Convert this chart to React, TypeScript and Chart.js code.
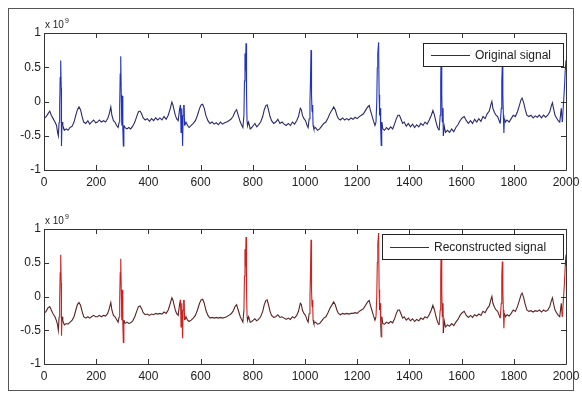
import React, { useEffect, useLayoutEffect, useRef } from "react";
import { Chart, registerables } from "chart.js";

Chart.register(...registerables);

// x in samples, y in units of 1e9
const originalSignal: [number, number][] = [
  [0,-0.25],[8,-0.22],[15,-0.18],[22,-0.14],[28,-0.2],[35,-0.25],[42,-0.3],[48,-0.35],[52,-0.45],[55,-0.5],[58,-0.3],[60,-0.05],[62,0.35],[64,0.6],[66,0.2],[67,-0.65],[69,-0.3],[72,-0.35],[78,-0.42],[85,-0.4],[92,-0.42],[100,-0.38],[108,-0.36],[115,-0.3],[122,-0.2],[128,-0.12],[134,-0.08],[140,-0.12],[146,-0.22],[152,-0.3],[160,-0.32],[168,-0.28],[175,-0.33],[182,-0.3],[190,-0.27],[198,-0.31],[205,-0.3],[212,-0.27],[220,-0.3],[228,-0.28],[236,-0.3],[244,-0.25],[250,-0.18],[256,-0.08],[260,-0.2],[266,-0.28],[272,-0.3],[278,-0.35],[284,-0.38],[288,-0.3],[290,-0.05],[292,0.4],[294,0.66],[296,0.1],[298,-0.35],[300,0.08],[302,-0.4],[304,-0.65],[306,-0.35],[310,-0.38],[318,-0.4],[325,-0.38],[332,-0.4],[340,-0.36],[348,-0.3],[355,-0.22],[362,-0.15],[368,-0.14],[374,-0.18],[380,-0.24],[388,-0.27],[396,-0.25],[404,-0.29],[412,-0.25],[420,-0.28],[428,-0.24],[436,-0.27],[444,-0.24],[452,-0.27],[460,-0.22],[468,-0.26],[476,-0.2],[484,-0.1],[490,-0.01],[494,-0.05],[498,-0.12],[503,-0.2],[508,-0.25],[514,-0.28],[520,-0.1],[523,-0.05],[525,-0.45],[528,-0.1],[531,-0.65],[533,-0.2],[536,-0.05],[539,-0.35],[544,-0.3],[550,-0.35],[556,-0.38],[564,-0.35],[572,-0.32],[580,-0.28],[588,-0.2],[596,-0.1],[602,-0.05],[608,-0.04],[614,-0.1],[620,-0.2],[628,-0.28],[636,-0.32],[644,-0.3],[652,-0.33],[660,-0.31],[668,-0.34],[676,-0.3],[684,-0.33],[692,-0.31],[700,-0.3],[708,-0.28],[716,-0.26],[724,-0.22],[732,-0.15],[738,-0.12],[744,-0.2],[752,-0.3],[758,-0.35],[762,-0.38],[766,-0.2],[768,0.3],[770,0.7],[772,0.45],[774,0.85],[776,0.1],[778,-0.3],[780,-0.35],[784,-0.3],[790,-0.4],[796,-0.38],[802,-0.35],[808,-0.32],[815,-0.37],[822,-0.34],[830,-0.3],[838,-0.22],[844,-0.12],[850,-0.06],[855,-0.05],[860,-0.12],[866,-0.22],[872,-0.28],[880,-0.32],[888,-0.3],[896,-0.26],[904,-0.32],[912,-0.3],[920,-0.33],[928,-0.35],[936,-0.32],[944,-0.35],[952,-0.3],[960,-0.33],[968,-0.28],[975,-0.22],[982,-0.1],[986,-0.12],[990,-0.2],[996,-0.25],[1002,-0.28],[1008,-0.35],[1012,-0.38],[1016,-0.25],[1019,0.0],[1021,0.3],[1023,0.75],[1025,0.1],[1027,-0.15],[1029,-0.05],[1031,-0.35],[1034,-0.4],[1040,-0.38],[1048,-0.42],[1056,-0.4],[1064,-0.36],[1072,-0.32],[1080,-0.3],[1088,-0.24],[1096,-0.17],[1104,-0.12],[1110,-0.08],[1116,-0.12],[1122,-0.2],[1128,-0.25],[1136,-0.27],[1144,-0.24],[1152,-0.27],[1160,-0.25],[1168,-0.27],[1176,-0.24],[1184,-0.26],[1192,-0.23],[1200,-0.25],[1208,-0.22],[1216,-0.2],[1224,-0.18],[1232,-0.13],[1240,-0.08],[1246,-0.06],[1250,-0.12],[1256,-0.2],[1262,-0.28],[1268,-0.35],[1272,-0.3],[1275,0.0],[1277,0.5],[1279,0.7],[1282,0.86],[1284,0.1],[1286,-0.2],[1288,-0.1],[1290,-0.4],[1292,-0.64],[1294,-0.3],[1298,-0.4],[1305,-0.42],[1312,-0.38],[1320,-0.41],[1328,-0.37],[1336,-0.4],[1344,-0.32],[1350,-0.25],[1356,-0.2],[1362,-0.2],[1368,-0.26],[1374,-0.32],[1380,-0.3],[1388,-0.36],[1396,-0.32],[1404,-0.37],[1412,-0.33],[1420,-0.38],[1428,-0.34],[1436,-0.37],[1444,-0.32],[1452,-0.35],[1460,-0.3],[1468,-0.33],[1476,-0.27],[1484,-0.2],[1490,-0.13],[1496,-0.2],[1502,-0.3],[1508,-0.38],[1514,-0.42],[1518,-0.2],[1520,0.3],[1522,0.85],[1524,0.1],[1526,-0.3],[1528,-0.1],[1530,-0.5],[1533,-0.35],[1538,-0.45],[1546,-0.42],[1554,-0.45],[1562,-0.4],[1570,-0.44],[1578,-0.38],[1586,-0.34],[1594,-0.28],[1602,-0.24],[1610,-0.22],[1618,-0.28],[1626,-0.32],[1634,-0.28],[1642,-0.32],[1650,-0.26],[1658,-0.3],[1666,-0.25],[1674,-0.29],[1682,-0.22],[1690,-0.25],[1698,-0.18],[1706,-0.14],[1712,-0.05],[1716,0.0],[1720,-0.1],[1726,-0.16],[1732,-0.2],[1738,-0.22],[1744,-0.28],[1748,-0.32],[1752,-0.1],[1754,0.3],[1756,0.54],[1758,0.1],[1760,-0.2],[1762,-0.46],[1764,-0.25],[1768,-0.3],[1774,-0.27],[1782,-0.3],[1790,-0.25],[1798,-0.2],[1806,-0.22],[1814,-0.15],[1822,-0.05],[1828,0.03],[1832,0.05],[1838,-0.02],[1844,-0.12],[1850,-0.2],[1858,-0.22],[1866,-0.2],[1874,-0.24],[1882,-0.21],[1890,-0.23],[1898,-0.2],[1906,-0.24],[1914,-0.2],[1922,-0.23],[1930,-0.2],[1938,-0.15],[1944,-0.06],[1948,-0.02],[1952,-0.1],[1958,-0.2],[1964,-0.24],[1970,-0.28],[1976,-0.3],[1982,-0.1],[1986,-0.3],[1990,-0.05],[1994,0.2],[1997,0.45],[2000,0.6]
];

const reconstructedSignal: [number, number][] = [
  [0,-0.25],[8,-0.22],[15,-0.17],[22,-0.15],[28,-0.2],[35,-0.26],[42,-0.3],[48,-0.36],[52,-0.42],[55,-0.5],[58,-0.3],[60,-0.05],[62,0.35],[64,0.62],[66,0.2],[67,-0.58],[69,-0.3],[72,-0.36],[78,-0.42],[85,-0.4],[92,-0.41],[100,-0.38],[108,-0.35],[115,-0.3],[122,-0.2],[128,-0.12],[134,-0.09],[140,-0.13],[146,-0.22],[152,-0.3],[160,-0.32],[168,-0.3],[175,-0.32],[182,-0.3],[190,-0.28],[198,-0.3],[205,-0.3],[212,-0.28],[220,-0.3],[228,-0.28],[236,-0.29],[244,-0.25],[250,-0.18],[256,-0.09],[260,-0.2],[266,-0.28],[272,-0.3],[278,-0.34],[284,-0.38],[288,-0.3],[290,-0.05],[292,0.35],[294,0.56],[296,0.1],[298,-0.35],[300,0.1],[302,-0.4],[304,-0.68],[306,-0.35],[310,-0.4],[318,-0.38],[325,-0.4],[332,-0.39],[340,-0.36],[348,-0.3],[355,-0.22],[362,-0.15],[368,-0.14],[374,-0.18],[380,-0.24],[388,-0.27],[396,-0.26],[404,-0.28],[412,-0.26],[420,-0.27],[428,-0.25],[436,-0.26],[444,-0.25],[452,-0.26],[460,-0.23],[468,-0.25],[476,-0.2],[484,-0.1],[490,-0.02],[494,-0.05],[498,-0.12],[503,-0.2],[508,-0.25],[514,-0.28],[520,-0.1],[523,-0.05],[525,-0.45],[528,-0.1],[531,-0.62],[533,-0.2],[536,-0.05],[539,-0.35],[544,-0.3],[550,-0.35],[556,-0.37],[564,-0.35],[572,-0.32],[580,-0.28],[588,-0.2],[596,-0.1],[602,-0.05],[608,-0.04],[614,-0.1],[620,-0.2],[628,-0.28],[636,-0.32],[644,-0.31],[652,-0.32],[660,-0.31],[668,-0.32],[676,-0.31],[684,-0.32],[692,-0.31],[700,-0.3],[708,-0.28],[716,-0.26],[724,-0.22],[732,-0.15],[738,-0.12],[744,-0.2],[752,-0.3],[758,-0.35],[762,-0.38],[766,-0.2],[768,0.3],[770,0.7],[772,0.45],[774,0.88],[776,0.1],[778,-0.3],[780,-0.35],[784,-0.3],[790,-0.38],[796,-0.37],[802,-0.35],[808,-0.33],[815,-0.36],[822,-0.34],[830,-0.3],[838,-0.22],[844,-0.12],[850,-0.06],[855,-0.05],[860,-0.12],[866,-0.22],[872,-0.28],[880,-0.31],[888,-0.3],[896,-0.27],[904,-0.31],[912,-0.3],[920,-0.32],[928,-0.34],[936,-0.32],[944,-0.34],[952,-0.3],[960,-0.32],[968,-0.28],[975,-0.22],[982,-0.1],[986,-0.12],[990,-0.2],[996,-0.25],[1002,-0.28],[1008,-0.35],[1012,-0.38],[1016,-0.25],[1019,0.0],[1021,0.35],[1023,0.84],[1025,0.1],[1027,-0.15],[1029,-0.05],[1031,-0.35],[1034,-0.4],[1040,-0.38],[1048,-0.41],[1056,-0.4],[1064,-0.36],[1072,-0.32],[1080,-0.3],[1088,-0.24],[1096,-0.17],[1104,-0.12],[1110,-0.08],[1116,-0.12],[1122,-0.2],[1128,-0.25],[1136,-0.27],[1144,-0.25],[1152,-0.26],[1160,-0.25],[1168,-0.26],[1176,-0.25],[1184,-0.25],[1192,-0.24],[1200,-0.25],[1208,-0.22],[1216,-0.2],[1224,-0.18],[1232,-0.13],[1240,-0.08],[1246,-0.06],[1250,-0.12],[1256,-0.2],[1262,-0.28],[1268,-0.35],[1272,-0.3],[1275,0.0],[1277,0.5],[1279,0.75],[1282,0.94],[1284,0.1],[1286,-0.2],[1288,-0.1],[1290,-0.4],[1292,-0.6],[1294,-0.3],[1298,-0.4],[1305,-0.41],[1312,-0.38],[1320,-0.4],[1328,-0.37],[1336,-0.39],[1344,-0.32],[1350,-0.25],[1356,-0.2],[1362,-0.2],[1368,-0.26],[1374,-0.32],[1380,-0.3],[1388,-0.35],[1396,-0.32],[1404,-0.36],[1412,-0.33],[1420,-0.37],[1428,-0.34],[1436,-0.36],[1444,-0.32],[1452,-0.34],[1460,-0.3],[1468,-0.32],[1476,-0.27],[1484,-0.2],[1490,-0.13],[1496,-0.2],[1502,-0.3],[1508,-0.38],[1514,-0.42],[1518,-0.2],[1520,0.3],[1522,0.86],[1524,0.1],[1526,-0.3],[1528,-0.1],[1530,-0.54],[1533,-0.35],[1538,-0.45],[1546,-0.42],[1554,-0.44],[1562,-0.4],[1570,-0.43],[1578,-0.38],[1586,-0.34],[1594,-0.28],[1602,-0.24],[1610,-0.22],[1618,-0.28],[1626,-0.31],[1634,-0.28],[1642,-0.31],[1650,-0.27],[1658,-0.29],[1666,-0.26],[1674,-0.28],[1682,-0.22],[1690,-0.24],[1698,-0.18],[1706,-0.14],[1712,-0.05],[1716,0.0],[1720,-0.1],[1726,-0.16],[1732,-0.2],[1738,-0.22],[1744,-0.28],[1748,-0.32],[1752,-0.1],[1754,0.3],[1756,0.52],[1758,0.1],[1760,-0.2],[1762,-0.47],[1764,-0.25],[1768,-0.3],[1774,-0.27],[1782,-0.29],[1790,-0.25],[1798,-0.2],[1806,-0.22],[1814,-0.15],[1822,-0.05],[1828,0.03],[1832,0.05],[1838,-0.02],[1844,-0.12],[1850,-0.2],[1858,-0.22],[1866,-0.21],[1874,-0.23],[1882,-0.21],[1890,-0.22],[1898,-0.2],[1906,-0.23],[1914,-0.2],[1922,-0.22],[1930,-0.2],[1938,-0.15],[1944,-0.06],[1948,-0.02],[1952,-0.1],[1958,-0.2],[1964,-0.24],[1970,-0.28],[1976,-0.3],[1982,-0.1],[1986,-0.3],[1990,-0.05],[1994,0.2],[1997,0.45],[2000,0.62]
];

const xTicks = [0, 200, 400, 600, 800, 1000, 1200, 1400, 1600, 1800, 2000];
const yTicks = [-1, -0.5, 0, 0.5, 1];
const legendOriginal = "Original signal";
const legendReconstructed = "Reconstructed signal";
const exponentLabel = "x 10";
const exponentPower = "9";

const FONT = "'Liberation Sans', Arial, sans-serif";
const CANVAS_W = 573;

type PanelProps = {
  data: [number, number][];
  label: string;
  thin: string;
  bright: string;
  legendBox: { x: number; y: number; w: number; h: number };
  padTop: number;
  xAxisH: number;
  height: number;
  top: number;
};

function Panel(p: PanelProps) {
  const ref = useRef<HTMLCanvasElement>(null);
  useEffect(() => {
    if (!ref.current) return;
    const deco = {
      id: "matlabDeco",
      afterDraw(chart: any) {
        const { ctx, chartArea: a, scales } = chart;
        const xs = scales.x, ys = scales.y;
        ctx.save();
        ctx.strokeStyle = "#333";
        ctx.lineWidth = 1;
        ctx.beginPath();
        ctx.rect(Math.round(a.left) + 0.5, Math.round(a.top) + 0.5, Math.round(a.right - a.left), Math.round(a.bottom - a.top));
        ctx.stroke();
        ctx.beginPath();
        const tl = 5;
        xTicks.forEach((v) => {
          const px = Math.round(xs.getPixelForValue(v)) + 0.5;
          ctx.moveTo(px, a.bottom); ctx.lineTo(px, a.bottom - tl);
          ctx.moveTo(px, a.top); ctx.lineTo(px, a.top + tl);
        });
        yTicks.forEach((v) => {
          const py = Math.round(ys.getPixelForValue(v)) + 0.5;
          ctx.moveTo(a.left, py); ctx.lineTo(a.left + tl, py);
          ctx.moveTo(a.right, py); ctx.lineTo(a.right - tl, py);
        });
        ctx.stroke();
        // exponent label
        ctx.fillStyle = "#222";
        ctx.font = `10px ${FONT}`;
        ctx.textBaseline = "alphabetic";
        ctx.textAlign = "left";
        ctx.fillText(exponentLabel, a.left + 1, a.top - 5);
        const w = ctx.measureText(exponentLabel).width;
        ctx.font = `7px ${FONT}`;
        ctx.fillText(exponentPower, a.left + 2 + w, a.top - 10);
        // legend
        const b = p.legendBox;
        ctx.fillStyle = "#fff";
        ctx.fillRect(b.x, b.y, b.w, b.h);
        ctx.strokeStyle = "#222";
        ctx.strokeRect(b.x + 0.5, b.y + 0.5, b.w, b.h);
        const cy = Math.round(b.y + b.h / 2) + 0.5;
        ctx.strokeStyle = p.thin;
        ctx.beginPath();
        ctx.moveTo(b.x + 8, cy); ctx.lineTo(b.x + 47, cy);
        ctx.stroke();
        ctx.fillStyle = "#222";
        ctx.font = `12px ${FONT}`;
        ctx.textBaseline = "middle";
        ctx.fillText(p.label, b.x + 52, cy + 0.5);
        ctx.restore();
      },
    };
    const chart = new Chart(ref.current, {
      type: "line",
      data: {
        datasets: [
          {
            label: p.label,
            data: p.data.map(([x, y]) => ({ x, y })),
            borderColor: p.thin,
            borderWidth: 1.1,
            pointRadius: 0,
            tension: 0,
            segment: {
              borderColor: (c: any) =>
                Math.abs(c.p1.parsed.y - c.p0.parsed.y) > 0.2 ? p.bright : p.thin,
            },
          },
        ],
      },
      options: {
        animation: false,
        responsive: false,
        maintainAspectRatio: false,
        devicePixelRatio: 1,
        layout: { padding: { top: p.padTop, right: CANVAS_W - 557, left: 0, bottom: 0 } },
        plugins: { legend: { display: false }, tooltip: { enabled: false } },
        scales: {
          x: {
            type: "linear",
            min: 0,
            max: 2000,
            grid: { display: false, drawTicks: false },
            border: { display: false },
            afterBuildTicks: (s: any) => { s.ticks = xTicks.map((v) => ({ value: v })); },
            afterFit: (s: any) => { s.height = p.xAxisH; s.paddingLeft = 0; s.paddingRight = 0; },
            ticks: {
              autoSkip: false,
              maxRotation: 0,
              padding: 5,
              color: "#222",
              font: { family: FONT, size: 12 },
              callback: (v: any) => String(v),
            },
          },
          y: {
            type: "linear",
            min: -1,
            max: 1,
            grid: { display: false, drawTicks: false },
            border: { display: false },
            afterBuildTicks: (s: any) => { s.ticks = yTicks.map((v) => ({ value: v })); },
            afterFit: (s: any) => { s.width = 35; s.paddingTop = 0; s.paddingBottom = 0; },
            ticks: {
              autoSkip: false,
              padding: 3,
              color: "#222",
              font: { family: FONT, size: 12 },
              callback: (v: any) => String(v),
            },
          },
        },
      },
      plugins: [deco],
    });
    return () => chart.destroy();
  }, []);
  return (
    <canvas
      ref={ref}
      width={CANVAS_W}
      height={p.height}
      style={{ position: "absolute", left: 1, top: p.top, width: CANVAS_W, height: p.height, display: "block" }}
    />
  );
}

export default function App() {
  useLayoutEffect(() => {
    document.body.style.marginRight = "0px";
    const root = document.getElementById("root");
    if (root) root.style.width = "574px";
  }, []);
  return (
    <div style={{ position: "relative", width: 574, height: 383 }}>
      <div
        style={{
          position: "absolute",
          left: 0,
          top: 0,
          width: 564,
          height: 381,
          border: "1px solid #555",
          background: "#fff",
        }}
      />
      <Panel
        data={originalSignal}
        label={legendOriginal}
        thin="#2a2a66"
        bright="#2233bb"
        legendBox={{ x: 414, y: 34, w: 140, h: 23 }}
        padTop={24}
        xAxisH={29}
        height={190}
        top={1}
      />
      <Panel
        data={reconstructedSignal}
        label={legendReconstructed}
        thin="#5a2424"
        bright="#cc2222"
        legendBox={{ x: 373, y: 34, w: 181, h: 25 }}
        padTop={29}
        xAxisH={26}
        height={190}
        top={192}
      />
    </div>
  );
}
